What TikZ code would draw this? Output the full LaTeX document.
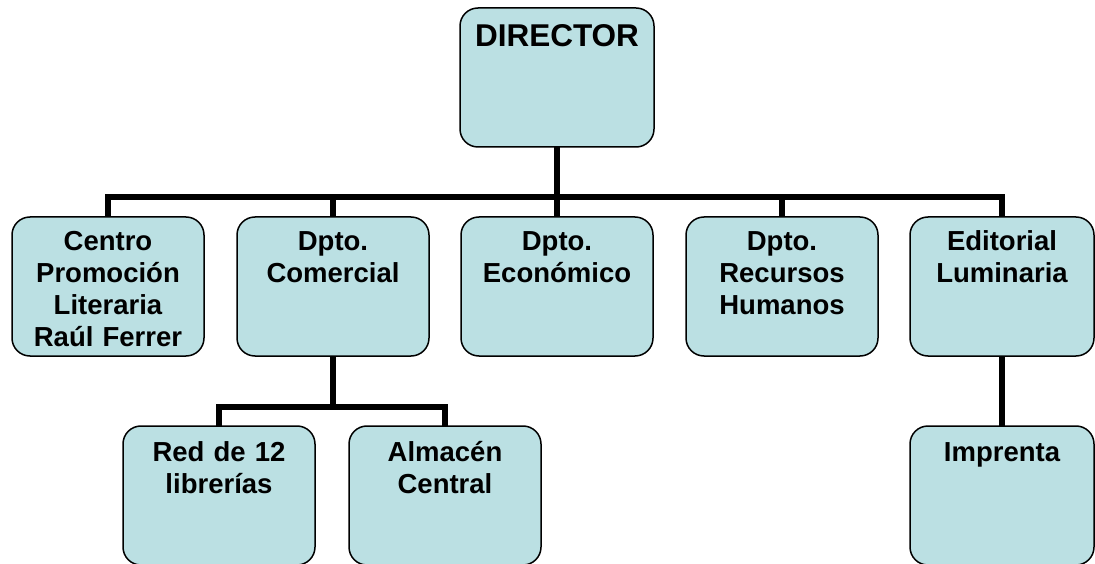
\documentclass[tikz,border=0pt]{standalone}
\usepackage{fontspec}
\setmainfont{Liberation Sans}
\usepackage{xcolor}
\definecolor{unitblue}{HTML}{BBE0E3}
\usepackage{tikz}
\usetikzlibrary{positioning}
\tikzset{
  unit/.style    ={rectangle, rounded corners=18pt, draw=black, line width=1.5pt,
                   fill=unitblue, inner sep=0pt, outer sep=0pt, align=center,
                   text width=192pt, text height=34pt, text depth=105pt,
                   font=\fontsize{27.5}{32}\selectfont\bfseries},
  narrow/.style  ={text width=184pt},
  director/.style={text width=194pt, text height=39pt, text depth=100pt,
                   font=\fontsize{31.5}{36}\selectfont\bfseries},
  sub/.style     ={text height=35pt, text depth=104pt},
  link/.style    ={line width=6pt, draw=black},
}

\begin{document}
\begin{tikzpicture}
  \clip (0,0) rectangle (1095pt,563pt);
  % top
  \node[unit, director, anchor=north west] (dir) at (460pt,555pt) {DIRECTOR};
  % row 1
  \node[unit, anchor=north west] (cpl) at (12pt,346pt) {Centro\\Promoción\\Literaria\\Raúl Ferrer};
  \node[unit, right=33pt of cpl] (com) {Dpto.\\Comercial};
  \node[unit, right=32pt of com] (eco) {Dpto.\\Económico};
  \node[unit, right=33pt of eco] (rrh) {Dpto.\\Recursos\\Humanos};
  \node[unit, narrow, right=32pt of rrh] (edl) {Editorial\\Luminaria};
  % row 2
  \node[unit, sub, below=70pt of com, xshift=-114pt] (red) {Red de 12\\librerías};
  \node[unit, sub, below=70pt of com, xshift=112pt] (alm) {Almacén\\Central};
  \node[unit, sub, narrow, below=70pt of edl] (imp) {Imprenta};
  % connectors
  \coordinate (bus) at (0,366pt);
  \coordinate[below=51pt of com.south] (fork);
  \draw[link] (dir.south) -- (dir.south |- bus);
  \draw[link] (cpl.north) |- (edl.north |- bus) -- (edl.north);
  \draw[link] (com.north) -- (com.north |- bus);
  \draw[link] (eco.north) -- (eco.north |- bus);
  \draw[link] (rrh.north) -- (rrh.north |- bus);
  \draw[link] (com.south) -- (fork);
  \draw[link] (red.north) |- (fork) -| (alm.north);
  \draw[link] (edl.south) -- (imp.north);
\end{tikzpicture}
\end{document}
